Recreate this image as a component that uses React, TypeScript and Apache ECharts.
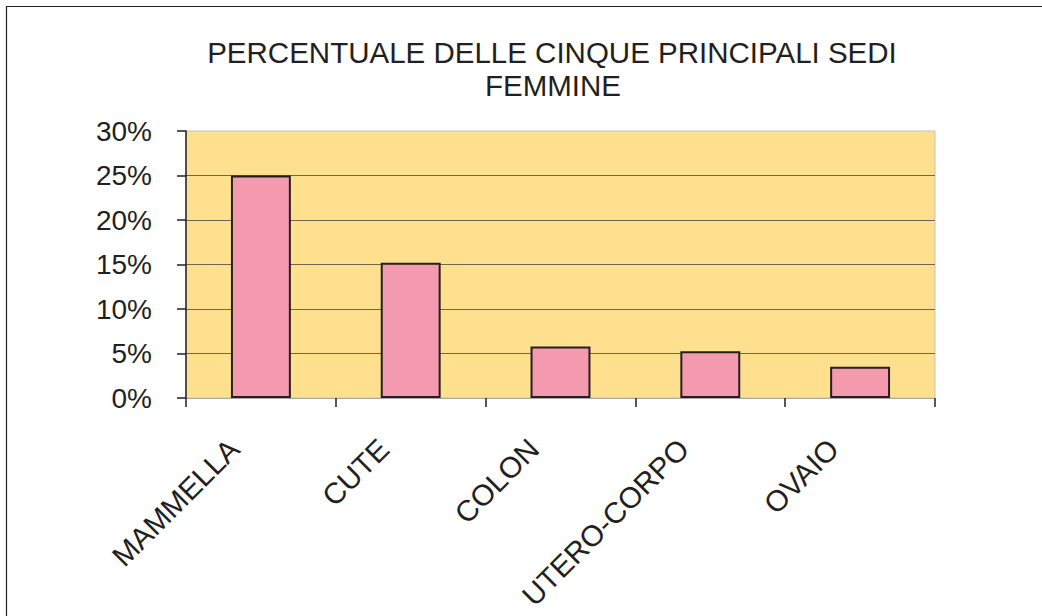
import React, { useEffect, useRef } from "react";
import * as echarts from "echarts";

const categories = ["MAMMELLA", "CUTE", "COLON", "UTERO-CORPO", "OVAIO"];
const percentages = [25.0, 15.2, 5.8, 5.25, 3.5];
const titleLines = ["PERCENTUALE DELLE CINQUE PRINCIPALI SEDI", "FEMMINE"];

const FONT = "Liberation Sans, Arial, sans-serif";
const INK = "#231f20";

export default function App() {
  const ref = useRef<HTMLDivElement>(null);
  useEffect(() => {
    if (!ref.current) return;
    const chart = echarts.init(ref.current, null, { renderer: "svg" });
    chart.setOption({
      animation: false,
      backgroundColor: "#ffffff",
      graphic: [
        {
          type: "rect",
          shape: { x: 6.5, y: 6.5, width: 2000, height: 2000 },
          style: { fill: "none", stroke: INK, lineWidth: 1.2 },
          silent: true,
        },
        {
          type: "text",
          style: {
            text: titleLines[0],
            x: 552,
            y: 52,
            textAlign: "center",
            textVerticalAlign: "middle",
            fontFamily: FONT,
            fontSize: 29.5,
            fill: INK,
          },
        },
        {
          type: "text",
          style: {
            text: titleLines[1],
            x: 553,
            y: 85,
            textAlign: "center",
            textVerticalAlign: "middle",
            fontFamily: FONT,
            fontSize: 29.5,
            fill: INK,
          },
        },
      ],
      grid: {
        left: 186,
        right: 107,
        top: 131,
        bottom: 218,
        show: true,
        backgroundColor: "#FFE08F",
        borderColor: "#c4c4c4",
        borderWidth: 1,
      },
      xAxis: {
        type: "category",
        data: categories,
        boundaryGap: true,
        axisLine: { show: true, lineStyle: { color: "#a8a8a8", width: 1 } },
        axisTick: {
          show: true,
          alignWithLabel: false,
          length: 9,
          lineStyle: { color: INK, width: 1.5 },
        },
        axisLabel: {
          rotate: 45,
          margin: 19,
          padding: [0, 38, 0, 0],
          fontFamily: FONT,
          fontSize: 29.5,
          color: INK,
          interval: 0,
        },
      },
      yAxis: {
        type: "value",
        min: 0,
        max: 30,
        interval: 5,
        axisLine: { show: true, lineStyle: { color: INK, width: 1.5 } },
        axisTick: { show: true, length: 9, lineStyle: { color: INK, width: 1.5 } },
        axisLabel: {
          formatter: "{value}%",
          margin: 34,
          fontFamily: FONT,
          fontSize: 28,
          color: INK,
        },
        splitLine: {
          show: true,
          lineStyle: {
            color: ["#a8a8a8", "#6e6650", "#6e6650", "#6e6650", "#6e6650", "#6e6650", "#f2cf78"],
            width: 1.2,
          },
        },
      },
      series: [
        {
          type: "bar",
          data: percentages,
          barCategoryGap: "60%",
          itemStyle: {
            color: "#F49AAF",
            borderColor: INK,
            borderWidth: 2,
          },
        },
      ],
    });
    return () => chart.dispose();
  }, []);
  return (
    <div
      ref={ref}
      style={{ position: "absolute", left: 0, top: 0, width: 1042, height: 616 }}
    />
  );
}
